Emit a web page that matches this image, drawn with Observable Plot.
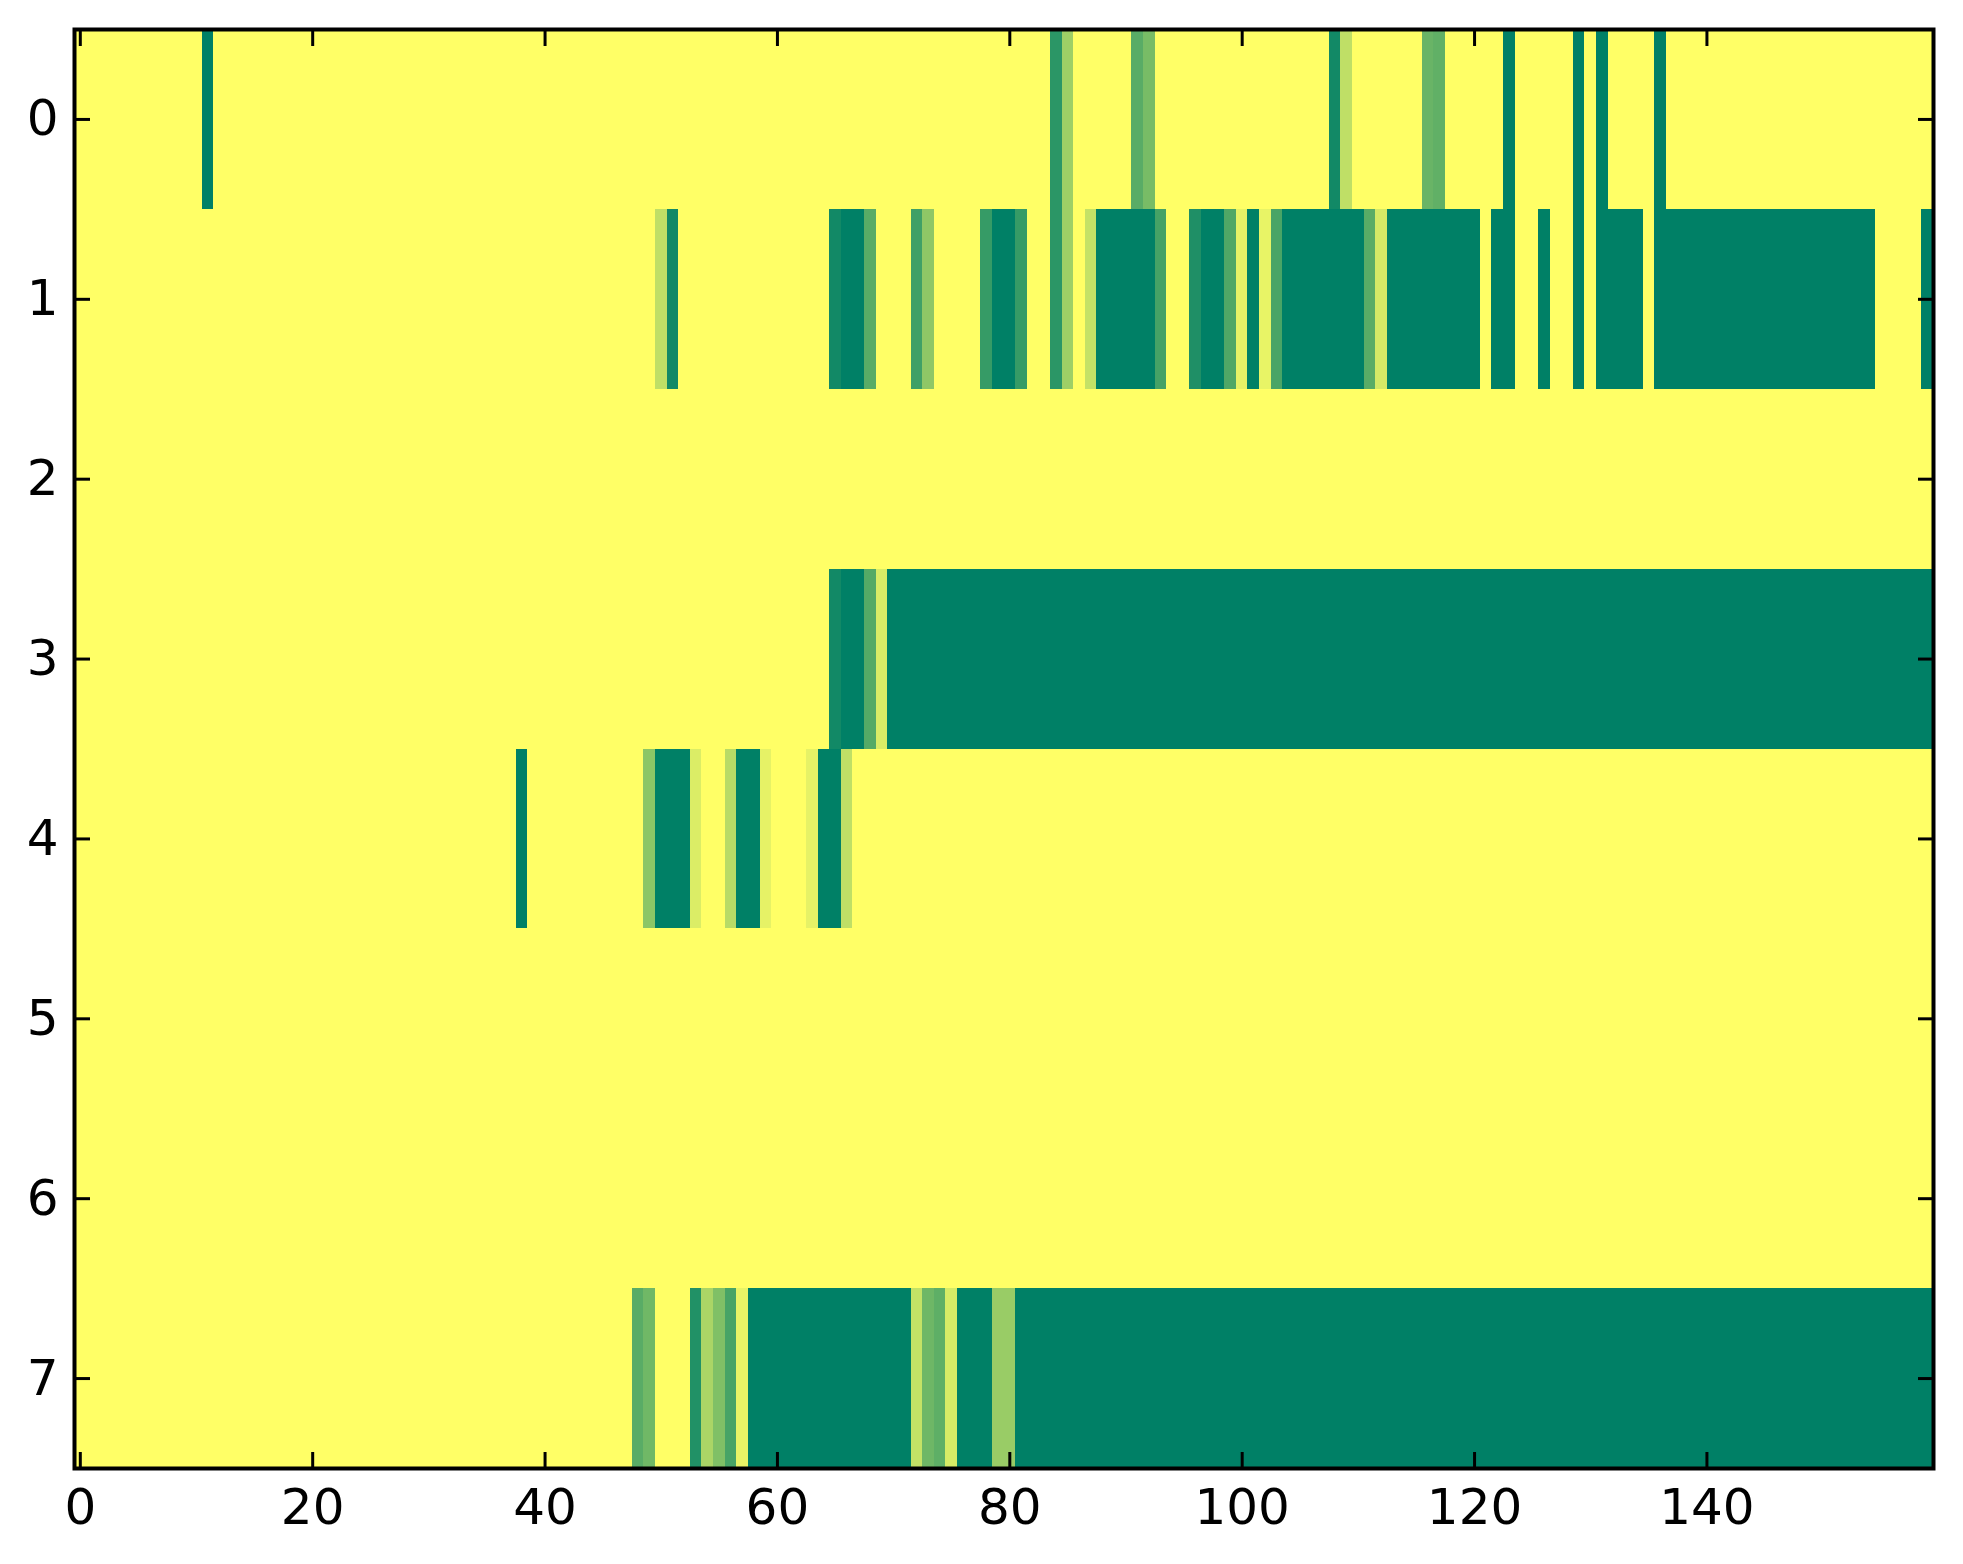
<!DOCTYPE html>
<html>
<head>
<meta charset="utf-8">
<script src="https://cdn.jsdelivr.net/npm/d3@7"></script>
<script src="https://cdn.jsdelivr.net/npm/@observablehq/plot@0.6"></script>
<style>
  html, body { margin: 0; padding: 0; background: #ffffff; overflow: hidden; }
  #chart svg { display: block; }
</style>
</head>
<body>
<div id="chart"></div>
<script>
// Image values (0 = dark green, 1 = yellow), run-length encoded per row: [firstCol, lastCol, value].
// Any column not listed has value 1.
const nCols = 160;
const rowLabels = [0, 1, 2, 3, 4, 5, 6, 7];
const xTicks = [0, 20, 40, 60, 80, 100, 120, 140];

const row0 = [[11,11,0],[84,84,0.17],[85,85,0.62],[91,91,0.35],[92,92,0.47],[108,108,0.07],[109,109,0.75],
  [116,116,0.41],[117,117,0.38],[123,123,0],[129,129,0],[131,131,0],[136,136,0]];
const row1 = [[50,50,0.75],[51,51,0.07],[65,65,0.07],[66,67,0],[68,68,0.35],[72,72,0.25],[73,73,0.56],
  [78,78,0.21],[79,80,0],[81,81,0.21],[84,84,0.17],[85,85,0.62],[87,87,0.77],[88,92,0],[93,93,0.27],
  [96,96,0.12],[97,98,0],[99,99,0.31],[100,100,0.9],[101,101,0],[102,102,0.91],[103,103,0.29],[104,110,0],
  [111,111,0.35],[112,112,0.83],[113,120,0],[122,123,0],[126,126,0],[129,129,0],[131,134,0],[136,154,0],[159,159,0]];
const row2 = [];
const row3 = [[65,65,0.07],[66,67,0],[68,68,0.33],[69,69,0.85],[70,159,0]];
const row4 = [[38,38,0],[49,49,0.55],[50,52,0],[53,53,0.86],[56,56,0.72],[57,58,0],[59,59,0.9],
  [63,63,0.9],[64,65,0],[66,66,0.75]];
const row5 = [];
const row6 = [];
const row7 = [[48,48,0.35],[49,49,0.44],[53,53,0.13],[54,54,0.67],[55,55,0.5],[56,56,0.28],[57,57,0.91],
  [58,71,0],[72,72,0.77],[73,73,0.43],[74,74,0.37],[75,75,0.84],[76,78,0],[79,80,0.6],[81,159,0]];

const rows = [row0, row1, row2, row3, row4, row5, row6, row7];

// Expand runs into one cell per (row, column)
const cells = [];
rows.forEach((runs, r) => {
  const vals = new Array(nCols).fill(1);
  for (const [a, b, v] of runs) for (let c = a; c <= b; c++) vals[c] = v;
  vals.forEach((v, c) => cells.push({r: rowLabels[r], c, v}));
});

const W = 1963, H = 1564;
const font = "DejaVu Sans, Liberation Sans, sans-serif";

const chart = Plot.plot({
  width: W,
  height: H,
  marginLeft: 74,
  marginRight: 30,
  marginTop: 29,
  marginBottom: 96,
  style: {fontFamily: font, fontSize: "50px", background: "#ffffff", color: "#000"},
  x: {type: "band", domain: d3.range(nCols), padding: 0, round: false, label: null},
  y: {type: "band", domain: rowLabels, padding: 0, round: false, label: null},
  color: {type: "linear", domain: [0, 1], range: ["#008066", "#ffff66"], interpolate: "rgb"},
  marks: [
    Plot.cell(cells, {x: "c", y: "r", fill: "v", shapeRendering: "crispEdges"}),
    // tick labels
    Plot.axisX({anchor: "bottom", ticks: xTicks, tickSize: 0, tickPadding: 20, fontSize: 50}),
    Plot.axisY({anchor: "left", ticks: rowLabels, tickSize: 0, tickPadding: 16, fontSize: 50}),
    // inward ticks on all four sides
    Plot.axisX({anchor: "bottom", ticks: xTicks, tickSize: -16, text: null, strokeWidth: 3}),
    Plot.axisX({anchor: "top", ticks: xTicks, tickSize: -16, text: null, strokeWidth: 3}),
    Plot.axisY({anchor: "left", ticks: rowLabels, tickSize: -16, text: null, strokeWidth: 3}),
    Plot.axisY({anchor: "right", ticks: rowLabels, tickSize: -16, text: null, strokeWidth: 3}),
    Plot.frame({stroke: "#000", strokeWidth: 4})
  ]
});

document.getElementById("chart").appendChild(chart);
</script>
</body>
</html>
